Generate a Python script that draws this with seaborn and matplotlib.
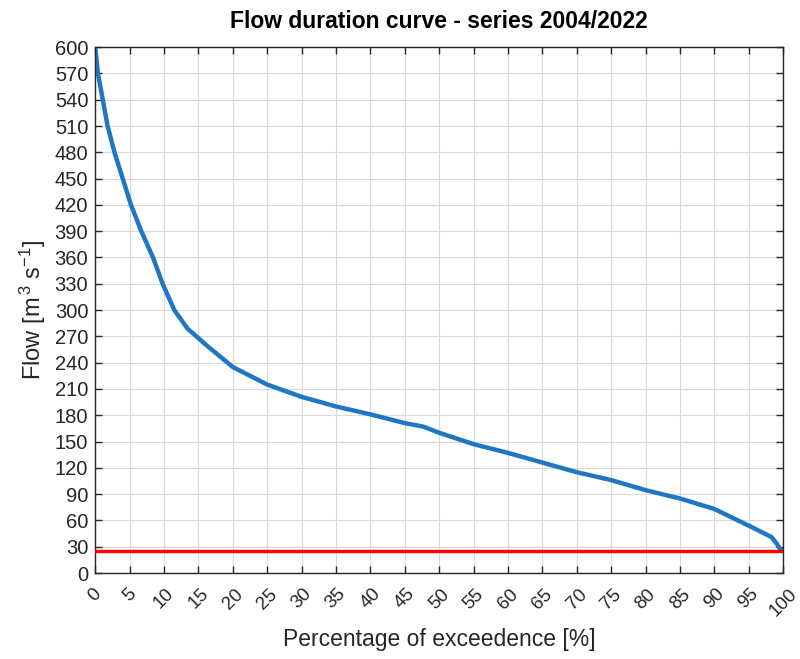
import matplotlib
matplotlib.use("Agg")
import matplotlib.pyplot as plt
import seaborn as sns
import pandas as pd
import numpy as np

# Data
exceedance = [0.0, 0.4, 1.1, 1.8, 2.8, 4.0, 5.2, 6.7, 8.4, 9.8, 11.5, 13.4, 16.3,
              20.0, 25.0, 30.0, 35.0, 40.0, 45.0, 47.7, 50.0, 55.0, 60.0, 65.0,
              70.0, 75.0, 80.0, 85.0, 90.0, 95.0, 98.3, 99.0, 99.6, 100.0]
flow = [600, 570, 540, 510, 480, 450, 420, 390, 360, 330, 300, 279, 259,
        235, 215, 201, 190, 181, 171, 167, 160, 147, 137, 126,
        115, 106, 94.5, 85, 73, 54, 41, 34, 27, 25]
threshold = 25
x_ticks = list(range(0, 101, 5))
y_ticks = list(range(0, 601, 30))
title = "Flow duration curve - series 2004/2022"
xlabel = "Percentage of exceedence [%]"
ylabel = "Flow [m$^{\\,3}$ s$^{-1}$]"

df = pd.DataFrame({"exceedance": exceedance, "flow": flow})

sns.set_theme(style="white")
plt.rcParams["font.family"] = ["Liberation Sans", "DejaVu Sans"]
plt.rcParams["mathtext.fontset"] = "custom"
plt.rcParams["mathtext.rm"] = "Liberation Sans"
plt.rcParams["mathtext.it"] = "Liberation Sans"

fig = plt.figure(figsize=(8, 6.59), dpi=100)
ax = fig.add_axes([0.119, 0.1305, 0.86, 0.798])

sns.lineplot(data=df, x="exceedance", y="flow", ax=ax, color="#1f77c4",
             linewidth=3.2, sort=False)
ax.axhline(threshold, color="#ff0000", linewidth=2.5, zorder=3)

ax.set_xlim(0, 100)
ax.set_ylim(0, 600)
ax.set_xticks(x_ticks)
ax.set_yticks(y_ticks)
ax.set_xticklabels([str(v) for v in x_ticks], rotation=45, fontsize=13.5, color="#262626")
ax.set_yticklabels([str(v) for v in y_ticks], fontsize=14.5, color="#262626")
ax.grid(True, color="#d9d9d9", linewidth=0.8)
ax.set_axisbelow(True)
ax.tick_params(direction="in", length=5, width=1, top=True, right=True,
               bottom=True, left=True, colors="#262626", pad=5)
ax.tick_params(axis="x", pad=9)
for s in ax.spines.values():
    s.set_color("#262626")
    s.set_linewidth(1.0)

ax.set_title(title, fontsize=16.5, fontweight="bold", color="#000000", pad=14)
ax.set_xlabel(xlabel, fontsize=16.5, color="#262626", labelpad=6)
ax.set_ylabel(ylabel, fontsize=17, color="#262626", labelpad=5)

fig.savefig("out.png", dpi=100)
